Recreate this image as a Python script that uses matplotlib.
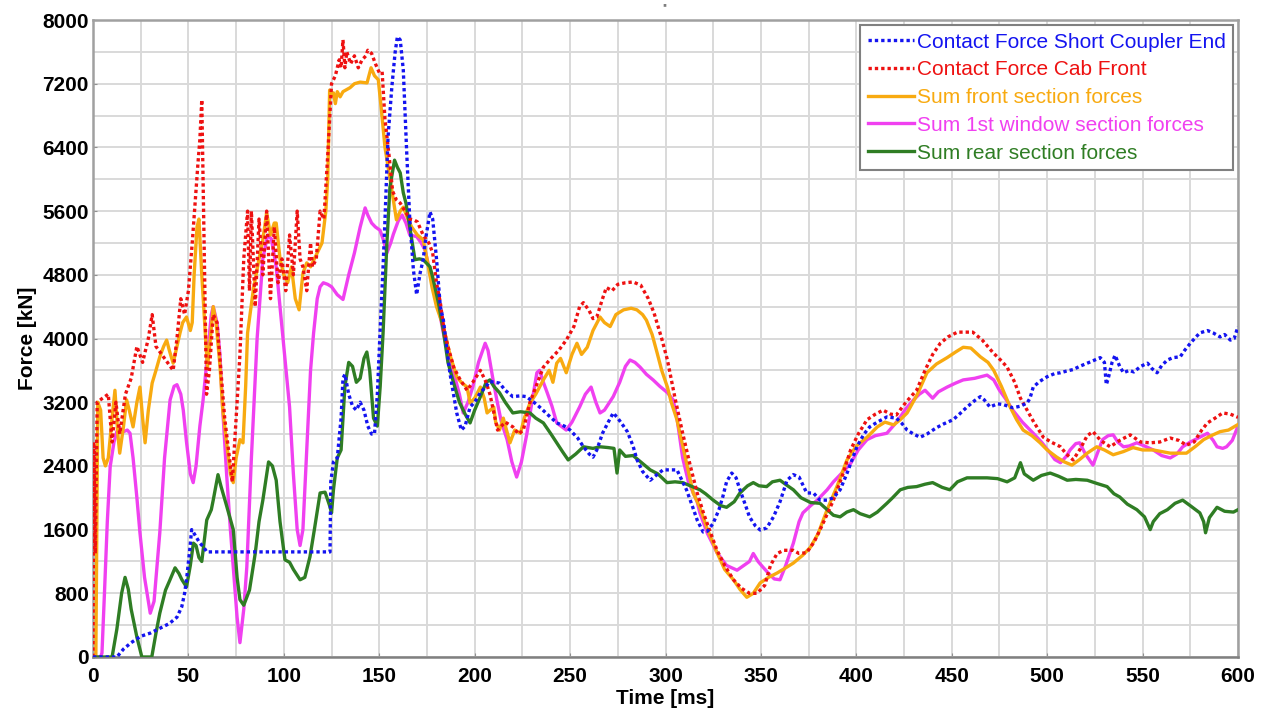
import matplotlib
matplotlib.use("Agg")
import matplotlib.pyplot as plt
from matplotlib.ticker import MultipleLocator
import numpy as np

# ---- data: time [ms] / force [kN] for each signal ----
coupler_t = [0, 12.5, 16, 20, 25, 30, 35, 40, 44, 46.5, 48, 49, 50.5, 51.7, 53, 56, 58, 59.6, 124.2, 124.6, 126, 128, 130, 131, 132, 134, 136, 138, 140, 142, 144, 146, 147.5, 149, 150.4, 152, 153, 154.6, 156.6, 158.3, 159.5, 161, 162.6, 164.4, 166, 167.9, 169.6, 171.4, 173, 174.5, 176.6, 178, 180, 182, 183.6, 187, 190.6, 193, 195, 197.6, 200, 203, 206, 208, 213, 216, 220, 224, 227, 231, 234, 238, 243, 247, 250, 254, 257, 260, 262, 264, 267, 270, 272.6, 275, 278, 280, 283, 285, 288, 292, 295, 298.7, 302, 306, 309, 311, 314, 316.6, 319.7, 322, 325, 328, 330, 332, 334.7, 337, 339, 342, 344, 347, 349.6, 353, 356.6, 360, 363.7, 367, 370, 374, 377.5, 381, 384.7, 388, 391.5, 395, 400.3, 404, 407, 411, 416, 421, 424, 426.6, 430, 433.4, 437, 442, 446, 450.7, 454, 458, 462, 465, 467, 470, 474, 477, 482, 486, 489.5, 491, 492.7, 496, 500, 504, 507, 510, 513.6, 517, 521, 524, 527.8, 530, 531, 532, 534, 535.6, 538, 540, 543, 545.4, 549, 552.6, 555, 557.6, 560, 563, 566, 569.7, 572, 575, 578, 580, 584, 587, 590.6, 593, 596, 598, 600]
coupler_f = [0, 0, 100, 180, 260, 300, 360, 420, 500, 630, 800, 970, 1300, 1600, 1550, 1430, 1380, 1320, 1320, 2200, 2450, 2500, 3000, 3500, 3550, 3300, 3150, 3100, 3200, 3100, 2900, 2800, 2800, 3300, 4070, 4900, 5490, 6530, 7160, 7590, 7790, 7750, 7370, 6330, 5490, 4860, 4550, 4820, 4990, 5280, 5590, 5500, 5000, 4400, 4234, 3570, 3065, 2850, 2900, 3140, 3200, 3320, 3400, 3460, 3440, 3350, 3270, 3280, 3270, 3200, 3140, 3050, 2940, 2900, 2850, 2750, 2640, 2550, 2510, 2600, 2810, 2950, 3065, 3000, 2900, 2830, 2650, 2480, 2330, 2220, 2280, 2350, 2350, 2350, 2200, 2100, 1900, 1720, 1570, 1580, 1680, 1850, 2010, 2200, 2310, 2250, 2100, 1900, 1760, 1650, 1595, 1620, 1760, 1950, 2220, 2290, 2260, 2060, 2060, 1970, 1970, 2000, 2100, 2300, 2640, 2800, 2890, 2950, 3015, 3000, 2930, 2850, 2800, 2760, 2800, 2880, 2930, 2980, 3050, 3140, 3220, 3270, 3230, 3140, 3180, 3170, 3130, 3150, 3190, 3250, 3390, 3460, 3520, 3560, 3570, 3590, 3610, 3650, 3690, 3720, 3760, 3700, 3420, 3500, 3700, 3790, 3650, 3570, 3600, 3580, 3650, 3690, 3620, 3570, 3660, 3730, 3760, 3770, 3850, 3940, 4020, 4070, 4100, 4070, 4020, 4050, 3980, 4000, 4150]

cab_t = [0, 0.4, 1.2, 2.2, 5, 8, 10, 12, 14, 17, 20, 23, 26, 29, 31, 33, 36, 39, 42, 44, 46, 48, 50, 52, 53.5, 55, 56, 57, 58, 59.5, 61, 63, 65, 67, 69, 71, 73, 75, 77, 79, 81, 82, 83, 85, 87, 89, 91, 93, 95, 97, 99, 101, 103, 105, 107, 108.5, 110, 112, 114, 115, 117, 119, 121, 123, 125, 127, 129, 130, 131, 132, 133, 135, 137, 139, 141, 143, 144, 146, 148, 150, 151.5, 153, 155, 157, 159, 161, 163, 166, 168, 170, 173, 176, 178, 180, 182, 184, 186, 189, 192, 196, 199, 203, 206, 208, 212, 216, 220, 223, 225.5, 229, 233, 236, 240, 244, 248, 252, 255, 257, 260, 262, 264, 267, 269, 272, 275, 279, 283, 287, 291, 294, 298, 301, 305, 309, 313, 316.6, 320, 323, 327, 331, 335.6, 340, 344, 348, 352, 355, 358.5, 362, 367, 370, 374, 378, 382, 388, 393, 397, 401, 405.6, 410, 414, 418, 421, 426, 431.6, 436, 440, 444, 448, 453, 457, 461, 466, 471.7, 476, 479, 483, 486, 489.5, 493, 498, 502, 507, 510, 513.6, 517, 521, 524, 528, 533, 538, 543.5, 549, 554, 559, 564.5, 569, 573, 577, 581, 584, 588, 592, 596, 600]
cab_f = [0, 2700, 1300, 3200, 3250, 3300, 2700, 3200, 2800, 3300, 3500, 3900, 3700, 4000, 4300, 3900, 3800, 3700, 3600, 4000, 4500, 4300, 4600, 5200, 5700, 6200, 6500, 7000, 5500, 3300, 3600, 4300, 4200, 3600, 3000, 2600, 2200, 3000, 3800, 5000, 5600, 4600, 5600, 4400, 5500, 4800, 5600, 4500, 5400, 4700, 5000, 4600, 5300, 4800, 5600, 5000, 4900, 4600, 5200, 4900, 5000, 5600, 5500, 6300, 7200, 7300, 7500, 7400, 7750, 7400, 7600, 7450, 7550, 7400, 7500, 7550, 7620, 7580, 7450, 7340, 7350, 6750, 6330, 5850, 5740, 5700, 5620, 5500, 5490, 5465, 5300, 5200, 5075, 4700, 4450, 4100, 3900, 3640, 3500, 3350, 3450, 3600, 3450, 3300, 2850, 2950, 2890, 2800, 2850, 3200, 3450, 3640, 3750, 3850, 3980, 4150, 4400, 4450, 4350, 4250, 4270, 4500, 4640, 4600, 4680, 4700, 4710, 4670, 4500, 4320, 4000, 3730, 3250, 2810, 2400, 2060, 1800, 1600, 1340, 1150, 970, 860, 800, 800, 900, 1150, 1300, 1340, 1340, 1300, 1310, 1450, 1650, 1970, 2300, 2600, 2800, 2980, 3050, 3100, 3050, 3040, 3200, 3350, 3600, 3800, 3940, 4020, 4080, 4080, 4080, 3980, 3820, 3720, 3640, 3450, 3250, 3100, 2950, 2760, 2700, 2640, 2550, 2475, 2600, 2780, 2830, 2720, 2640, 2720, 2790, 2700, 2690, 2700, 2750, 2720, 2660, 2700, 2850, 2940, 3000, 3065, 3050, 3010]

front_t = [0, 1.5, 2.5, 4, 5.3, 6.5, 8, 10, 11.5, 13, 14, 16, 17.6, 19, 21, 23, 24.6, 26, 27.3, 29, 31, 33, 35, 37, 38.6, 40, 42, 44, 45.6, 47, 49, 51, 52, 53, 54.5, 55.5, 57, 59, 60, 61.5, 63, 64.5, 66.6, 68, 70, 72, 73.5, 75, 77, 78.6, 80, 81, 84, 87, 89, 91, 93, 95, 96, 98, 100, 102, 104, 106, 108, 110, 112, 114, 116, 118, 120, 122, 123, 124, 125, 126, 127, 128, 129.5, 131, 134.7, 137, 140, 143.6, 145.7, 147.5, 149.5, 151, 153, 155, 157, 159, 161, 162.6, 165, 167, 170, 173, 175, 177.6, 180, 183.6, 187, 190.6, 193, 196, 197.6, 200, 203, 205, 206.5, 210, 211, 213, 215, 218.5, 221, 224, 226, 229, 232, 236, 239, 241, 243, 245, 248, 251, 253.6, 256, 259, 262, 265.7, 268, 271, 274, 278, 282, 285, 288, 290, 293, 295.6, 298, 301, 303, 306, 310, 314.5, 318, 322, 327, 331, 335.6, 339, 342.6, 346, 349.6, 354, 358.5, 363, 367, 372, 376, 380, 384.7, 390, 395, 400, 405.6, 411, 415, 419.6, 423, 426.6, 432, 437, 442, 447.6, 452, 456, 460, 465, 469, 472, 476, 480.6, 484, 487.4, 492, 496.3, 500, 505, 509, 513, 517, 521, 526, 530, 534.6, 540, 545, 550, 555.6, 560, 564.5, 569, 573, 578, 582, 586, 590.6, 595, 600]
front_f = [0, 0, 3200, 3100, 2500, 2400, 2500, 3000, 3350, 2800, 2560, 2900, 3230, 3100, 2890, 3200, 3390, 3000, 2690, 3100, 3440, 3600, 3770, 3900, 3980, 3850, 3690, 3900, 4070, 4200, 4270, 4100, 4200, 4800, 5400, 5500, 4800, 4000, 3640, 4000, 4400, 4200, 3640, 3100, 2690, 2300, 2190, 2500, 2730, 2690, 3400, 4070, 4610, 5000, 5240, 5580, 5300, 5450, 5450, 5000, 4800, 4700, 4900, 4500, 4360, 4820, 4950, 4900, 5000, 5100, 5200, 5600, 6000, 7120, 7050, 7085, 6950, 7100, 7035, 7100, 7150, 7200, 7220, 7210, 7400, 7300, 7250, 6900, 6400, 6100, 5800, 5490, 5600, 5650, 5500, 5400, 5300, 5240, 5000, 4650, 4400, 4150, 3800, 3520, 3450, 3390, 3190, 3250, 3390, 3250, 3065, 3140, 2950, 2850, 3000, 2690, 2850, 2810, 3000, 3190, 3300, 3480, 3600, 3450, 3690, 3750, 3570, 3800, 3940, 3800, 3890, 4100, 4270, 4200, 4150, 4300, 4360, 4380, 4360, 4300, 4230, 4050, 3820, 3600, 3390, 3200, 2980, 2550, 2060, 1880, 1600, 1310, 1100, 970, 850, 750, 800, 930, 1000, 1055, 1120, 1180, 1280, 1380, 1550, 1850, 2150, 2470, 2650, 2760, 2890, 2950, 2915, 2980, 3065, 3300, 3570, 3680, 3760, 3830, 3890, 3880, 3770, 3700, 3600, 3400, 3140, 2980, 2850, 2780, 2690, 2600, 2510, 2450, 2410, 2480, 2560, 2640, 2600, 2540, 2580, 2630, 2600, 2600, 2580, 2560, 2560, 2560, 2650, 2730, 2780, 2830, 2850, 2920]

window_t = [0, 4, 4.7, 6, 7.5, 9, 11, 12.5, 14, 16, 18, 19.4, 21, 23, 24.6, 27, 30, 32, 35, 37.5, 40.4, 42.5, 44, 46, 47.3, 49, 51, 52.5, 54, 56, 57.7, 60, 62, 63, 65, 66.5, 68, 70, 72, 73.5, 75.5, 77, 79, 80.6, 83, 86, 89, 91.5, 93.5, 96, 98, 100, 103, 105, 107, 108.5, 110, 112, 114, 115.6, 117.5, 119, 120.7, 123, 125, 128, 131, 134, 137, 140, 142.6, 144, 146, 148, 150.4, 152, 154, 156, 157.4, 160, 162, 164, 166, 169.6, 172, 174, 176, 178, 181, 183.6, 186, 189, 192, 194, 196.5, 199, 202, 205.5, 207, 209.5, 211.6, 214, 217, 219.5, 222, 224.5, 227.4, 230, 232.6, 234, 236, 238, 240.5, 243, 248, 251, 255, 258, 261, 263.5, 265.7, 268, 272.6, 276, 279, 281.4, 284, 286.7, 290, 293.5, 297, 301, 304, 306, 309, 312, 316.6, 318, 322, 327, 332, 337.5, 341, 344, 346, 348.5, 351, 354, 357, 360, 363, 367, 370, 372, 376, 379.5, 384.7, 388, 392, 397, 401, 405.6, 410, 416, 420, 423, 426, 430, 433, 436, 438, 440, 443, 447.6, 452, 456, 462, 468.5, 472, 475, 478, 482, 487, 492.7, 497, 501.6, 504, 507, 510, 512, 515, 517, 520, 524, 527, 529, 532, 534.6, 537, 540, 543, 547, 551, 555.6, 560, 564.5, 568, 571, 575, 580, 584, 587, 589, 592, 594, 597, 600]
window_f = [0, 0, 50, 800, 1700, 2390, 2700, 2830, 2880, 2830, 2850, 2810, 2500, 2000, 1560, 1000, 550, 700, 1560, 2500, 3230, 3400, 3420, 3300, 3100, 2700, 2300, 2190, 2400, 2900, 3230, 3800, 4300, 4400, 4200, 3800, 3100, 2300, 1600, 1130, 500, 180, 600, 1130, 2500, 4000, 5000, 5300, 5250, 4900, 4400, 3900, 3140, 2300, 1600, 1400, 1600, 2600, 3600, 4070, 4500, 4650, 4700, 4680, 4650, 4550, 4490, 4800, 5075, 5400, 5640, 5550, 5450, 5400, 5360, 5250, 5075, 5200, 5310, 5480, 5550, 5450, 5300, 5280, 5200, 5110, 4900, 4700, 4400, 4070, 3800, 3570, 3300, 3065, 3200, 3390, 3700, 3940, 3850, 3500, 3230, 2950, 2730, 2450, 2260, 2450, 2810, 3200, 3570, 3600, 3450, 3320, 3150, 2940, 2850, 2950, 3140, 3300, 3390, 3200, 3065, 3100, 3270, 3450, 3650, 3730, 3700, 3640, 3550, 3480, 3400, 3320, 3230, 3000, 2500, 2200, 1950, 1810, 1550, 1310, 1150, 1090, 1150, 1200, 1300, 1200, 1130, 1050, 980, 970, 1150, 1430, 1700, 1810, 1900, 1970, 2100, 2200, 2300, 2430, 2600, 2730, 2780, 2810, 2920, 3015, 3120, 3230, 3300, 3350, 3300, 3250, 3330, 3390, 3440, 3480, 3500, 3540, 3480, 3350, 3250, 3100, 2950, 2810, 2700, 2560, 2480, 2440, 2520, 2600, 2680, 2690, 2550, 2410, 2600, 2730, 2780, 2790, 2700, 2640, 2650, 2690, 2650, 2600, 2530, 2500, 2550, 2640, 2700, 2760, 2810, 2720, 2640, 2620, 2640, 2720, 2900]

rear_t = [0, 10, 12.5, 15, 16.8, 18.5, 20, 23, 25.6, 30.8, 33, 35, 38, 40, 43, 45, 46.6, 49, 51, 52.6, 54, 55.5, 57, 58.5, 59.6, 62, 63, 65.5, 67, 70, 73.5, 75.5, 77, 79, 82, 85, 87, 89, 92, 94, 96, 98, 100.6, 103, 105, 108.5, 111, 113.7, 116, 119, 121.6, 124, 125, 126, 128, 130, 132, 134, 136, 138, 140, 142, 143.5, 145, 147, 149, 150.5, 152, 154, 155.6, 157, 158, 159.5, 161, 162.6, 164, 166, 168.7, 171, 173, 176.6, 178, 181, 183.6, 186, 189, 192, 195, 197.6, 200, 203, 206, 208, 210, 213, 216, 220, 224, 229, 232, 236, 240, 243, 246, 249, 253, 257, 262, 265.7, 270, 273, 274.6, 276, 279, 283, 287, 292, 296, 300.8, 305, 309, 313, 318, 321, 325, 329, 332, 336, 339, 343, 346, 349, 353, 356, 360, 364, 367, 371, 376, 381, 384.7, 388, 391.5, 395, 398.5, 402, 407, 411, 416, 419, 423, 427, 431.6, 436, 440, 445, 449, 453, 458, 463, 468.5, 474, 479, 483, 486, 488, 492.7, 497, 501.6, 506, 510.5, 515, 521, 526, 531.4, 535, 538, 542, 547, 551, 554, 555.6, 559, 563, 567, 571, 575, 580, 582, 583, 585, 589, 593, 597.6, 600]
rear_f = [0, 0, 350, 800, 1000, 850, 600, 250, 0, 0, 300, 550, 840, 950, 1120, 1050, 970, 880, 1150, 1430, 1400, 1250, 1200, 1500, 1720, 1850, 1970, 2290, 2150, 1900, 1600, 1000, 720, 650, 840, 1300, 1700, 1970, 2450, 2400, 2220, 1700, 1220, 1190, 1100, 970, 1000, 1260, 1600, 2060, 2070, 1900, 1810, 2100, 2500, 2600, 3400, 3700, 3650, 3450, 3500, 3750, 3830, 3600, 3000, 2900, 3400, 4070, 5200, 5900, 6100, 6240, 6150, 6080, 5830, 5700, 5400, 4990, 5000, 4990, 4900, 4770, 4450, 4100, 3700, 3440, 3200, 3050, 2940, 3100, 3270, 3450, 3480, 3400, 3320, 3200, 3065, 3080, 3065, 3000, 2940, 2800, 2690, 2580, 2475, 2550, 2640, 2620, 2640, 2630, 2620, 2310, 2600, 2520, 2530, 2450, 2350, 2300, 2190, 2200, 2190, 2150, 2100, 2050, 1970, 1900, 1880, 1950, 2060, 2150, 2190, 2150, 2140, 2200, 2220, 2150, 2100, 2000, 1940, 1930, 1850, 1780, 1760, 1820, 1850, 1800, 1760, 1820, 1930, 2000, 2100, 2130, 2140, 2170, 2190, 2130, 2100, 2200, 2250, 2250, 2250, 2240, 2200, 2250, 2440, 2300, 2220, 2280, 2310, 2270, 2220, 2230, 2220, 2180, 2140, 2050, 2010, 1920, 1850, 1760, 1600, 1700, 1800, 1850, 1930, 1970, 1900, 1810, 1700, 1560, 1750, 1880, 1830, 1820, 1850]

labels = ["Contact Force Short Coupler End", "Contact Force Cab Front",
          "Sum front section forces", "Sum 1st window section forces",
          "Sum rear section forces"]
colors = ["#1414f0", "#ee1111", "#f8aa10", "#f040f0", "#2f7d24"]

plt.rcParams['font.family'] = ['Liberation Sans', 'DejaVu Sans']

fig = plt.figure(figsize=(12.65, 7.10), dpi=100)
ax = fig.add_axes([93 / 1265, 53 / 710, 1145 / 1265, 637 / 710])

dotted = (0, (1.0, 0.9))
series = [
    (coupler_t, coupler_f, dotted, 5),
    (cab_t, cab_f, dotted, 4),
    (front_t, front_f, '-', 3),
    (window_t, window_f, '-', 2),
    (rear_t, rear_f, '-', 3.5),
]
handles = []
for (t, f, ls, z), c, lab in zip(series, colors, labels):
    h, = ax.plot(t, f, color=c, linestyle=ls, linewidth=2.4, label=lab,
                 zorder=z, solid_joinstyle='round')
    handles.append(h)

ax.set_xlim(0, 600)
ax.set_ylim(0, 8000)
ax.xaxis.set_major_locator(MultipleLocator(50))
ax.xaxis.set_minor_locator(MultipleLocator(25))
ax.yaxis.set_major_locator(MultipleLocator(800))
ax.yaxis.set_minor_locator(MultipleLocator(400))
ax.grid(True, which='both', color='#d9d9d9', linewidth=1.4, zorder=0)
ax.set_axisbelow(True)

for s in ax.spines.values():
    s.set_color('#a0a0a0')
    s.set_linewidth(1.8)
ax.spines['bottom'].set_color('#808080')

ax.tick_params(axis='both', which='major', length=3,
               direction='in', color='#909090')
ax.tick_params(axis='y', which='major', labelsize=15, pad=3)
ax.tick_params(axis='x', which='major', labelsize=15, pad=7)
ax.tick_params(axis='both', which='minor', length=0)
for lbl in ax.get_xticklabels() + ax.get_yticklabels():
    lbl.set_fontweight('bold')

ax.set_xlabel("Time [ms]", fontsize=15, fontweight='bold', labelpad=2)
ax.set_ylabel("Force [kN]", fontsize=15, fontweight='bold', labelpad=4)

leg = ax.legend(handles=handles, loc='upper right', fontsize=15,
                frameon=True, fancybox=False, edgecolor='#808080',
                framealpha=1.0,
                borderpad=0.35, labelspacing=0.42, handlelength=2.2,
                handletextpad=0.15, borderaxespad=0.25)
leg.get_frame().set_linewidth(1.5)
for txt, c in zip(leg.get_texts(), colors):
    txt.set_color(c)

fig.text(665 / 1265, 1 - 9 / 710, "''", fontsize=9, color='#555555',
         ha='center', va='center')

fig.savefig("out.png", dpi=100)
